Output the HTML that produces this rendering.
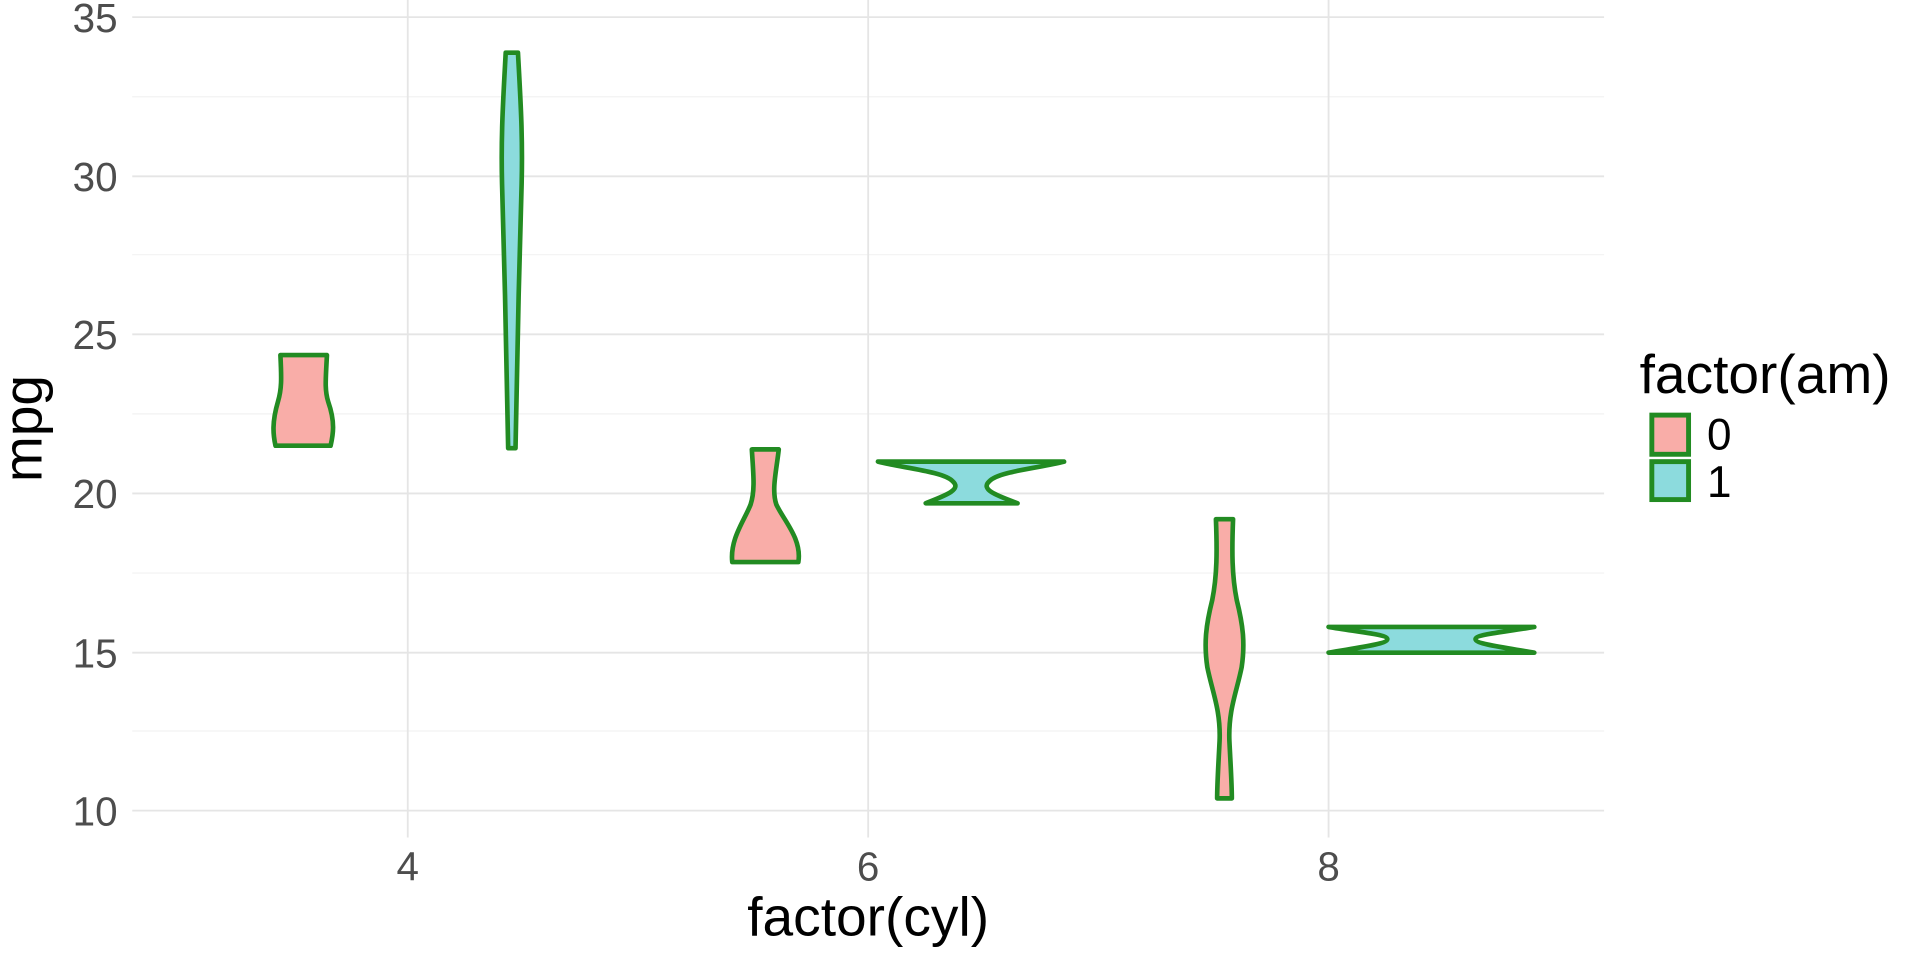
<!DOCTYPE html>
<html><head><style>html,body{margin:0;padding:0;background:#fff}svg{display:block}</style></head>
<body>
<svg width="1920" height="960" viewBox="0 0 1568 784" xmlns="http://www.w3.org/2000/svg" font-family="Liberation Sans, sans-serif">
<rect width="1568" height="784" fill="#fff"/>
<g stroke="#F2F2F2" stroke-width="1">
<line x1="108" x2="1310" y1="79" y2="79"/><line x1="108" x2="1310" y1="208" y2="208"/><line x1="108" x2="1310" y1="338" y2="338"/><line x1="108" x2="1310" y1="468" y2="468"/><line x1="108" x2="1310" y1="597" y2="597"/>
</g>
<g stroke="#E5E5E5" stroke-width="1.5">
<line x1="108" x2="1310" y1="14" y2="14"/><line x1="108" x2="1310" y1="144" y2="144"/><line x1="108" x2="1310" y1="273" y2="273"/><line x1="108" x2="1310" y1="403" y2="403"/><line x1="108" x2="1310" y1="533" y2="533"/><line x1="108" x2="1310" y1="662" y2="662"/>
<line x1="333" x2="333" y1="0" y2="684"/><line x1="709" x2="709" y1="0" y2="684"/><line x1="1085" x2="1085" y1="0" y2="684"/>
</g>
<g stroke="#228B22" stroke-width="3.8" stroke-linejoin="round">
<path fill="#F9ADA8" d="M229,290 L267,290 C266,310 265,318 268,328 C274,345 272,355 270,364 L225,364 C223,355 222,345 227,328 C230,318 230,310 229,290 Z"/>
<path fill="#8CDBDD" d="M413,43 L423,43 C425,80 427,110 426,150 C424,220 422,300 421,366 L415,366 C414,300 412,220 410,150 C409,110 411,80 413,43 Z"/>
<path fill="#F9ADA8" d="M614,367 L636,367 C634,385 630,400 634,412 C640,425 655,440 652,459 L598,459 C596,440 608,425 613,412 C617,400 615,385 614,367 Z"/>
<path fill="#8CDBDD" d="M717,377 L869,377 C850,382 815,385 808,393 C800,400 815,405 831,411 L756,411 C771,405 786,400 778,393 C771,385 736,382 717,377 Z"/>
<path fill="#F9ADA8" d="M993,424 L1007,424 C1006,450 1006,470 1010,490 C1015,510 1017,525 1014,545 C1010,565 1003,580 1004,605 C1005,625 1006,640 1006,652 L994,652 C994,640 995,625 996,605 C997,580 990,565 986,545 C983,525 985,510 990,490 C994,470 994,450 993,424 Z"/>
<path fill="#8CDBDD" d="M1085,512 L1253,512 C1230,516 1205,518 1205,522 C1205,526 1230,529 1253,533 L1085,533 C1108,529 1133,526 1133,522 C1133,518 1108,516 1085,512 Z"/>
</g>
<g fill="#4D4D4D" font-size="33" text-anchor="end">
<text x="96" y="26">35</text><text x="96" y="156">30</text><text x="96" y="285">25</text><text x="96" y="415">20</text><text x="96" y="545">15</text><text x="96" y="674">10</text>
</g>
<g fill="#4D4D4D" font-size="33" text-anchor="middle">
<text x="333" y="719">4</text><text x="709" y="719">6</text><text x="1085" y="719">8</text>
</g>
<text x="709" y="764" font-size="45" text-anchor="middle" fill="#000">factor(cyl)</text>
<text transform="translate(34,350) rotate(-90)" font-size="45" text-anchor="middle" fill="#000">mpg</text>
<text x="1339" y="321" font-size="45" fill="#000">factor(am)</text>
<rect x="1349" y="339" width="30" height="32" fill="#F9ADA8" stroke="#228B22" stroke-width="4"/>
<rect x="1349" y="377" width="30" height="31" fill="#8CDBDD" stroke="#228B22" stroke-width="4"/>
<text x="1394" y="367" font-size="36" fill="#000">0</text>
<text x="1394" y="406" font-size="36" fill="#000">1</text>
</svg>
</body></html>
